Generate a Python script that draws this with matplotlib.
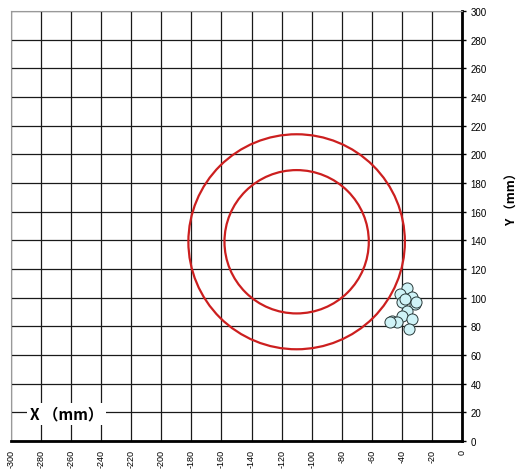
import matplotlib
matplotlib.use('Agg')
import matplotlib.pyplot as plt
from matplotlib.patches import Ellipse

# rings: centre (mm), x-radius, y-radius
ring_cx = -110
ring_cy = 139
ring_rx = [72, 48]
ring_ry = [75, 50]

# measured points
pts_x = [-36.7, -41, -33.4, -31.2, -40, -36.7, -40, -46.7, -43.4, -33.4, -35.5, -47.8, -38, -30.5]
pts_y = [107, 102.6, 100.3, 95.6, 96.8, 90.9, 87.4, 84, 82.8, 85, 78.2, 82.8, 99, 97]

xticks = list(range(-300, 1, 20))
yticks = list(range(0, 301, 20))

fig = plt.figure(figsize=(5.25, 4.77), dpi=100)
ax = fig.add_axes([11/525, 35/477, 451/525, 430/477])

ax.set_xlim(-300, 0)
ax.set_ylim(0, 300)
ax.set_xticks(xticks)
ax.set_yticks(yticks)
ax.set_xticklabels([str(t) for t in xticks], rotation=90, fontsize=6.5, family='Liberation Sans', va='top')
ax.set_yticklabels([str(t) for t in yticks], fontsize=7, family='Liberation Sans')
ax.grid(True, color='#1a1a1a', linewidth=0.9)
ax.set_axisbelow(True)

ax.yaxis.tick_right()
ax.tick_params(axis='y', direction='out', length=3, width=1, pad=3)
ax.tick_params(axis='x', length=0, pad=6)

ax.spines['top'].set_color('#999999')
ax.spines['left'].set_color('#999999')
ax.spines['right'].set_linewidth(2)
ax.spines['bottom'].set_linewidth(2)

for rx, ry in zip(ring_rx, ring_ry):
    ax.add_patch(Ellipse((ring_cx, ring_cy), 2 * rx, 2 * ry, fill=False, edgecolor='#cc1f1f', linewidth=1.6, zorder=3))

ax.plot(pts_x, pts_y, 'o', markersize=8, markerfacecolor='#cff3f7', markeredgecolor='#2a3a3a',
        markeredgewidth=0.7, linestyle='none', zorder=4)

ax.text(-263, 19, 'X （mm）', fontsize=11, fontweight='bold', family=['Noto Sans CJK SC', 'DejaVu Sans'],
        ha='center', va='center', zorder=5,
        bbox=dict(facecolor='white', edgecolor='none', pad=2))

fig.text(0.975, 0.588, 'Y （mm）', rotation=90, fontsize=9, fontweight='bold',
         family=['Noto Sans CJK SC', 'DejaVu Sans'], ha='center', va='center')

fig.savefig('out.png', dpi=100)
